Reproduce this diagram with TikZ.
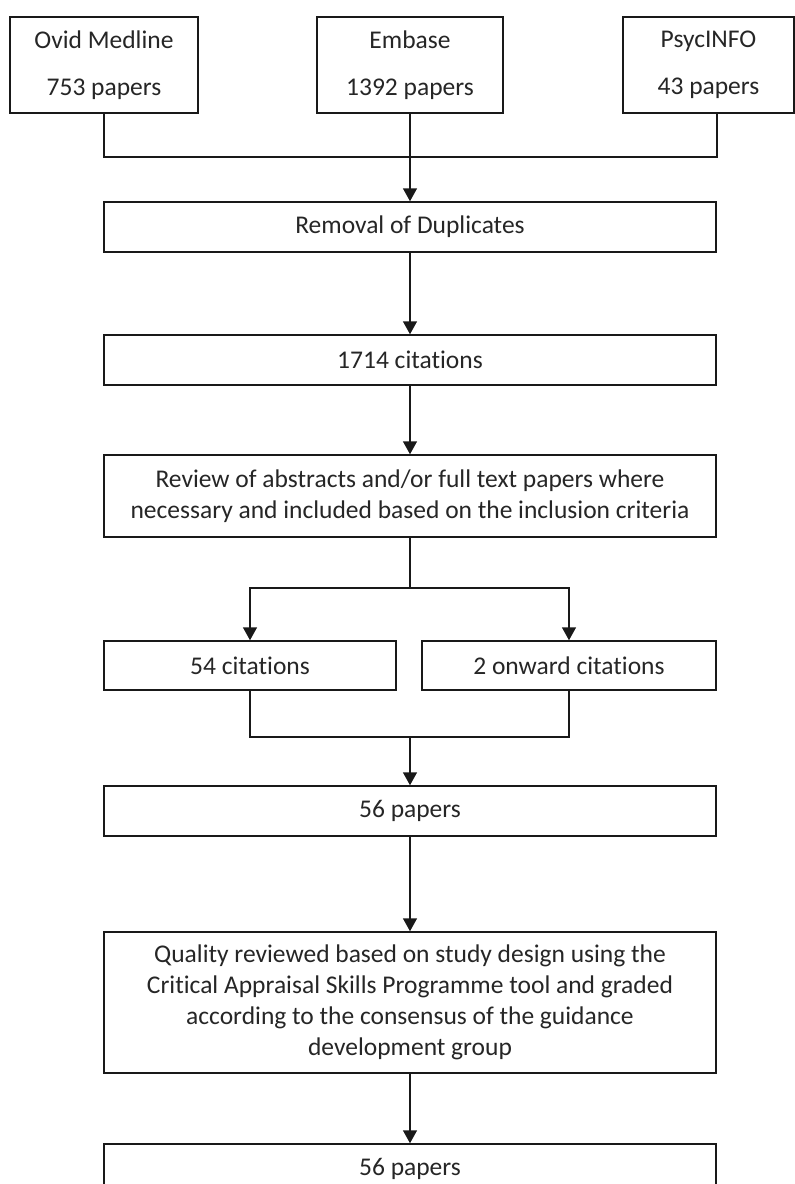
\documentclass[tikz,border=0pt]{standalone}
\usepackage{fontspec}
\setmainfont[Ligatures=NoCommon]{Carlito}
\usetikzlibrary{arrows.meta}
\begin{document}
\begin{tikzpicture}[x=1pt,y=1pt,
  font=\fontsize{25.5}{31}\selectfont,
  box/.style={draw=black!90, line width=1.5pt, rectangle, inner sep=0pt, align=center, text=black!85},
  conn/.style={draw=black!90, line width=1.5pt},
  arr/.style={conn, -{Triangle[length=13pt,width=14pt]}}]
\useasboundingbox (0,0) rectangle (795,-1184);
\clip (0,0) rectangle (795,-1184);
\fill[white] (0,0) rectangle (795,-1184);
% source boxes
\node[box, minimum width=188pt, minimum height=96pt] (ovid) at (104,-65) {Ovid Medline\\[16pt]753 papers};
\node[box, minimum width=186pt, minimum height=96pt] (embase) at (410,-65) {Embase\\[16pt]1392 papers};
\node[box, minimum width=171pt, minimum height=96pt] (psyc) at (708.5,-65) {PsycINFO\\[16pt]43 papers};
% main column
\node[box, minimum width=612pt, minimum height=50pt] (removal) at (410,-227) {Removal of Duplicates};
\node[box, minimum width=612pt, minimum height=50pt] (c1714) at (410,-360) {1714 citations};
\node[box, minimum width=612pt, minimum height=82pt] (review) at (410,-496) {Review of abstracts and/or full text papers where\\necessary and included based on the inclusion criteria};
\node[box, minimum width=292pt, minimum height=49pt] (c54) at (250,-665.5) {54 citations};
\node[box, minimum width=294pt, minimum height=49pt] (c2) at (569,-665.5) {2 onward citations};
\node[box, minimum width=612pt, minimum height=50pt] (p56) at (410,-811) {56 papers};
\node[box, minimum width=612pt, minimum height=141pt] (quality) at (410,-1002.5) {Quality reviewed based on study design using the\\Critical Appraisal Skills Programme tool and graded\\according to the consensus of the guidance\\development group};
\node[box, minimum width=612pt, minimum height=50pt] (final) at (410,-1169) {56 papers};
% junction coordinates
\coordinate (j1) at (410,-157);
\coordinate (split) at (410,-588);
\coordinate (merge) at (410,-737);
% connectors
\draw[conn] (ovid.south) |- (j1) -- (removal.east |- j1) -- (removal.east |- psyc.south);
\draw[arr] (embase.south) -- (removal.north);
\draw[arr] (removal.south) -- (c1714.north);
\draw[arr] (c1714.south) -- (review.north);
\draw[conn] (review.south) -- (split);
\draw[arr] (split) -| (c54.north);
\draw[arr] (split) -| (c2.north);
\draw[conn] (c54.south) |- (merge) -| (c2.south);
\draw[arr] (merge) -- (p56.north);
\draw[arr] (p56.south) -- (quality.north);
\draw[arr] (quality.south) -- (final.north);
\end{tikzpicture}
\end{document}
